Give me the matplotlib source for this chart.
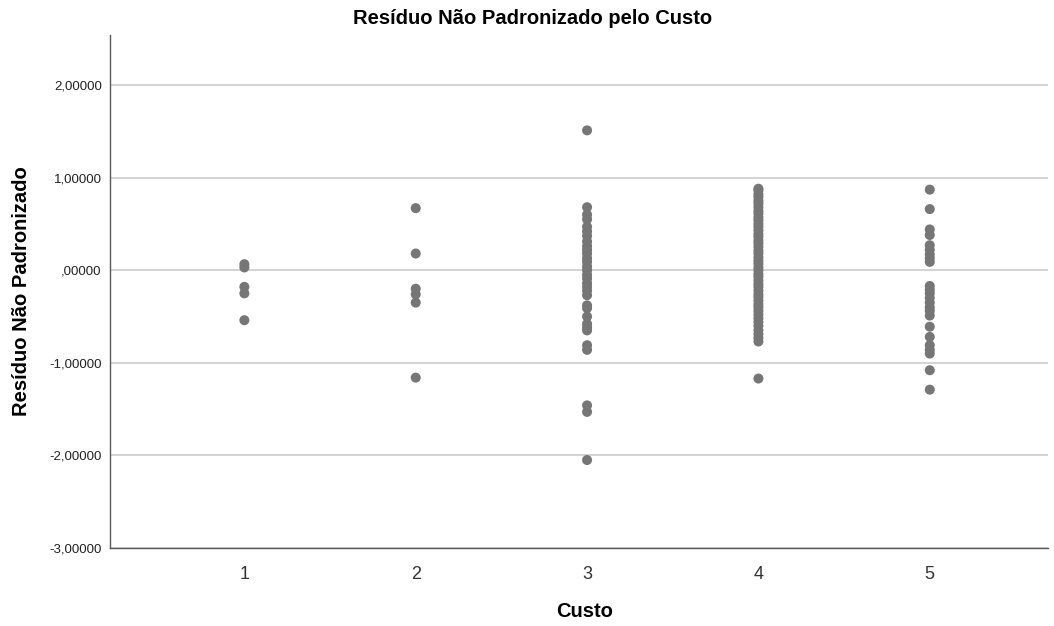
import numpy as np
import matplotlib
matplotlib.use('Agg')
import matplotlib.pyplot as plt
from matplotlib.ticker import FuncFormatter

plt.rcParams['font.family'] = ['Liberation Sans', 'DejaVu Sans']

# residuals grouped by cost level
custo1 = [0.065, 0.03, -0.18, -0.25, -0.54]
custo2 = [0.67, 0.18, -0.20, -0.26, -0.35, -1.16]
custo3 = [1.51, 0.68, 0.60, 0.55, 0.47, 0.42, 0.37, 0.31, 0.26, 0.22, 0.18,
          0.13, 0.09, 0.04, 0.00, -0.05, -0.09, -0.14, -0.18, -0.22, -0.27,
          -0.38, -0.41, -0.50, -0.58, -0.62, -0.65, -0.81, -0.86, -1.46,
          -1.53, -2.05]
custo4 = [0.88, 0.86, 0.82, 0.79, 0.75, 0.72, 0.68, 0.64, 0.61, 0.57, 0.54,
          0.50, 0.47, 0.43, 0.39, 0.36, 0.32, 0.29, 0.25, 0.21, 0.18, 0.14,
          0.10, 0.07, 0.03, 0.00, -0.04, -0.07, -0.11, -0.15, -0.18, -0.22,
          -0.26, -0.29, -0.33, -0.37, -0.40, -0.44, -0.48, -0.52, -0.56,
          -0.60, -0.65, -0.69, -0.73, -0.77, -1.17]
custo5 = [0.87, 0.66, 0.44, 0.38, 0.27, 0.22, 0.17, 0.13, 0.09, -0.17, -0.21,
          -0.25, -0.30, -0.35, -0.40, -0.44, -0.49, -0.61, -0.72, -0.81,
          -0.86, -0.90, -1.08, -1.29]
grupos = [custo1, custo2, custo3, custo4, custo5]
niveis = [1, 2, 3, 4, 5]
yticks = [-3, -2, -1, 0, 1, 2]


def fmt_spss(v, pos):
    s = '%.5f' % v
    s = s.replace('.', ',')
    if s.startswith('0,') or s.startswith('-0,'):
        s = s.replace('0,', ',', 1)
        if s == '-,00000':
            s = ',00000'
    return s


fig = plt.figure(figsize=(10.54, 6.26), dpi=100)
ax = fig.add_axes([0.1044, 0.1246, 0.8899, 0.8195])

for x, vals in zip(niveis, grupos):
    ax.scatter([x] * len(vals), vals, s=52, color='#767676', edgecolors='none',
               zorder=3)

ax.set_xlim(0.216, 5.69)
ax.set_ylim(-3, 2.54)
ax.set_xticks(niveis)
ax.set_yticks(yticks)
ax.yaxis.set_major_formatter(FuncFormatter(fmt_spss))
ax.grid(axis='y', color='#c8c8c8', lw=1.1, zorder=0)
ax.set_axisbelow(True)

for s in ['top', 'right']:
    ax.spines[s].set_visible(False)
for s in ['left', 'bottom']:
    ax.spines[s].set_color('#5a5a5a')
    ax.spines[s].set_linewidth(1.0)

ax.tick_params(axis='x', length=0, pad=13, labelsize=13, labelcolor='#333333')
ax.tick_params(axis='y', length=0, pad=6, labelsize=9.5, labelcolor='#222222')

ax.set_xlabel('Custo', fontsize=14.5, fontweight='bold')
ax.xaxis.set_label_coords(0.506, -0.105)
ax.set_ylabel('Resíduo Não Padronizado', fontsize=14.5, fontweight='bold')
ax.yaxis.set_label_coords(-0.084, 0.5)
fig.text(0.505, 0.971, 'Resíduo Não Padronizado pelo Custo', ha='center',
         va='center', fontsize=14.5, fontweight='bold')

fig.savefig('out.png', dpi=100)
